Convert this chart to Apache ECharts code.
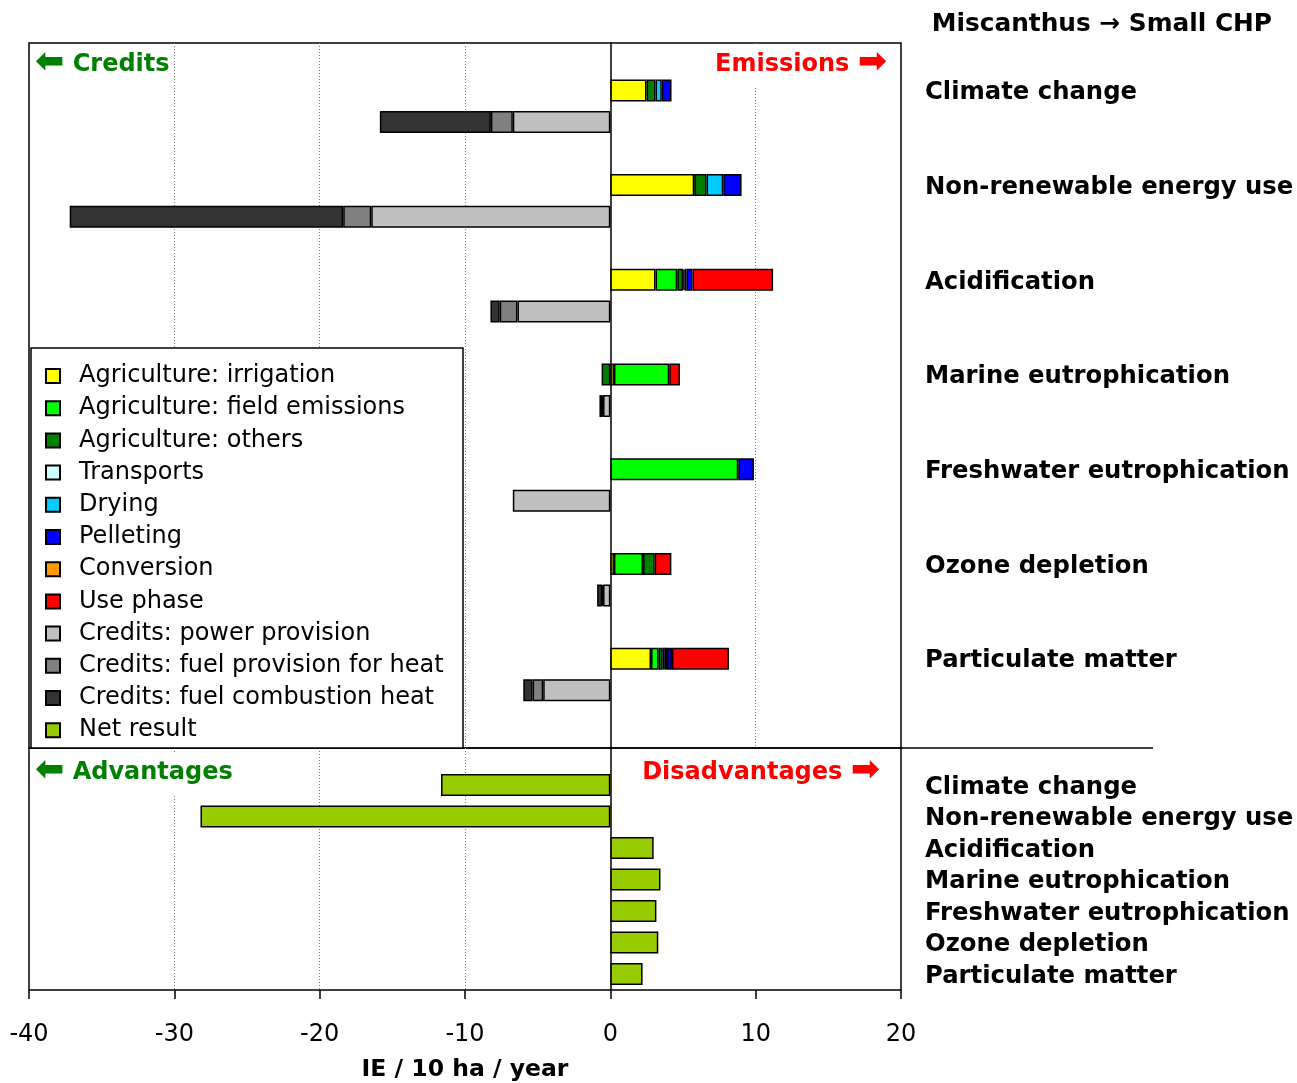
<!DOCTYPE html>
<html>
<head>
<meta charset="utf-8">
<title>Miscanthus → Small CHP</title>
<script src="https://cdn.jsdelivr.net/npm/echarts@6/dist/echarts.min.js"></script>
<style>
  html, body { margin: 0; padding: 0; background: #fff; }
  #chart { width: 1297px; height: 1083px; }
</style>
</head>
<body>
<div id="chart"></div>
<script>
// Impact categories (top to bottom)
const categories = [
  'Climate change',
  'Non-renewable energy use',
  'Acidification',
  'Marine eutrophication',
  'Freshwater eutrophication',
  'Ozone depletion',
  'Particulate matter'
];

// Emission contributions, IE / 10 ha / year
const irrigation       = [2.49, 5.77, 3.11, 0.25, 0,    0.25, 2.80];
const fieldEmissions   = [0,    0,    1.49, 3.80, 8.80, 2.00, 0.52];
const agricultureOther = [0.62, 0.85, 0.41, -0.60, 0,   0.80, 0.28];
const transports       = [0,    0,    0.10, 0,    0,    0,    0.15];
const drying           = [0.43, 1.15, 0.13, 0,    0,    0,    0.15];
const pelleting        = [0.67, 1.26, 0.41, 0,    1.08, 0,    0.34];
const conversion       = [0,    0,    0,    0,    0,    0,    0];
const usePhase         = [0,    0,    5.55, 0.74, 0,    1.15, 3.92];

// Credits, IE / 10 ha / year
const powerCredits      = [-6.71, -16.45, -6.39, -0.50, -6.71, -0.50, -4.62];
const heatFuelCredits   = [-1.51, -1.93,  -1.22, -0.05, 0,     -0.06, -0.73];
const combustionCredits = [-7.64, -18.82, -0.64, -0.20, 0,     -0.35, -0.64];

// Net result per category
const netResult = [-11.65, -28.20, 2.98, 3.45, 3.17, 3.30, 2.22];

// Axis ticks
const xMin = -40, xMax = 20, xStep = 10;

const FONT = 'DejaVu Sans';

// Top panel rows: emission bar, credit bar, spacer (no spacer after the last category)
const rows = [];
categories.forEach((c, i) => {
  rows.push({ label: c, kind: 'E', idx: i });
  rows.push({ label: '', kind: 'C', idx: i });
  if (i < categories.length - 1) rows.push({ label: '', kind: 'G', idx: i });
});

function rowData(values, kind) {
  return rows.map(r => {
    if (r.kind !== kind) return null;
    const v = values[r.idx];
    return v === 0 ? null : v;
  });
}

const emissionSeries = [
  ['Agriculture: irrigation', irrigation, '#FFFF00'],
  ['Agriculture: field emissions', fieldEmissions, '#00FF00'],
  ['Agriculture: others', agricultureOther, '#008000'],
  ['Transports', transports, '#CCFFFF'],
  ['Drying', drying, '#00CCFF'],
  ['Pelleting', pelleting, '#0000FF'],
  ['Conversion', conversion, '#FF9900'],
  ['Use phase', usePhase, '#FF0000']
];
const creditSeries = [
  ['Credits: power provision', powerCredits, '#C0C0C0'],
  ['Credits: fuel provision for heat', heatFuelCredits, '#808080'],
  ['Credits: fuel combustion heat', combustionCredits, '#333333']
];

const barBorder = { borderColor: '#000', borderWidth: 1.5 };

const series = [];
emissionSeries.forEach(([name, vals, color]) => {
  series.push({
    name, type: 'bar', stack: 'top', xAxisIndex: 2, yAxisIndex: 2,
    barWidth: 22, data: rowData(vals, 'E'),
    itemStyle: Object.assign({ color }, barBorder)
  });
});
creditSeries.forEach(([name, vals, color]) => {
  series.push({
    name, type: 'bar', stack: 'top', xAxisIndex: 2, yAxisIndex: 2,
    barWidth: 22, data: rowData(vals, 'C'),
    itemStyle: Object.assign({ color }, barBorder)
  });
});
series.push({
  name: 'Net result', type: 'bar', xAxisIndex: 3, yAxisIndex: 3,
  barWidth: 22, data: netResult,
  itemStyle: Object.assign({ color: '#99CC00' }, barBorder)
});

const GRID_LEFT = 29, GRID_W = 872;
const grey = '#7f7f7f', none = 'rgba(0,0,0,0)';

function frameX(gridIndex, splitColors, showLabels) {
  return {
    type: 'value', gridIndex, min: xMin, max: xMax, interval: xStep,
    axisLine: { show: false },
    axisTick: { show: showLabels, inside: false, length: 9, lineStyle: { color: '#000', width: 1.5 } },
    axisLabel: {
      show: showLabels, margin: 33, color: '#000', fontFamily: FONT, fontSize: 24
    },
    name: showLabels ? 'IE / 10 ha / year' : '',
    nameLocation: 'middle', nameGap: 68,
    nameTextStyle: { color: '#000', fontFamily: FONT, fontSize: 23.5, fontWeight: 'bold' },
    splitLine: { show: true, lineStyle: { color: splitColors, type: [1, 2], width: 1 } }
  };
}
function hiddenX(gridIndex) {
  return {
    type: 'value', gridIndex, min: xMin, max: xMax, interval: xStep,
    axisLine: { show: false }, axisTick: { show: false },
    axisLabel: { show: false }, splitLine: { show: false }
  };
}
function frameY(gridIndex) {
  return {
    type: 'value', gridIndex, min: 0, max: 1,
    axisLine: { show: true, onZero: true, lineStyle: { color: '#000', width: 1.5 } },
    axisTick: { show: false }, axisLabel: { show: false }, splitLine: { show: false }
  };
}
function labelY(gridIndex, data) {
  return {
    type: 'category', gridIndex, data, inverse: true, position: 'right',
    axisLine: { show: false, onZero: false }, axisTick: { show: false },
    splitLine: { show: false },
    axisLabel: {
      interval: 0, align: 'left', margin: 24, color: '#000',
      formatter: v => (v ? '{l|' + v + '}' : ''),
      rich: {
        l: { fontFamily: FONT, fontSize: 24.3, fontWeight: 'bold', color: '#000', padding: [5, 0, 0, 0] }
      }
    }
  };
}

// Header labels with a heavier arrow glyph
const headerRich = (color) => ({
  fontFamily: FONT, fontSize: 24, fontWeight: 'bold', fill: color,
  backgroundColor: '#fff', padding: [1, 4, 3, 4],
  rich: {
    a: { fontFamily: FONT, fontSize: 35, fontWeight: 'bold', fill: color, padding: [0, 0, 4, 0] }
  }
});

const option = {
  animation: false,
  backgroundColor: '#fff',
  textStyle: { fontFamily: FONT },
  grid: [
    { left: GRID_LEFT, top: 43, width: GRID_W, height: 705, show: true, borderColor: '#000', borderWidth: 1.5 },
    { left: GRID_LEFT, top: 748, width: GRID_W, height: 242, show: true, borderColor: '#000', borderWidth: 1.5 },
    { left: GRID_LEFT, top: 74.6, width: GRID_W, height: 631.4 },
    { left: GRID_LEFT, top: 769.25, width: GRID_W, height: 220.5 }
  ],
  xAxis: [
    frameX(0, [none, grey, grey, grey, none, grey, none], false),
    frameX(1, [none, grey, grey, grey, none, none, none], true),
    hiddenX(2),
    hiddenX(3)
  ],
  yAxis: [
    frameY(0),
    frameY(1),
    labelY(2, rows.map(r => r.label)),
    labelY(3, categories)
  ],
  legend: {
    orient: 'vertical', left: 31, top: 349,
    padding: [15, 10, 9, 14],
    itemWidth: 14, itemHeight: 14, itemGap: 8.2,
    icon: 'rect', selectedMode: false,
    textStyle: { fontFamily: FONT, fontSize: 24, color: '#000', padding: [0, 0, 0, 14] },
    data: series.map(s => s.name)
  },
  graphic: [
    { type: 'rect', z: 3, shape: { x: 31, y: 348, width: 432, height: 400 },
      style: { fill: '#fff', stroke: '#000', lineWidth: 1.5 } },
    { type: 'line', z: 3, shape: { x1: 901, y1: 748, x2: 1153, y2: 748 },
      style: { stroke: '#000', lineWidth: 1.5 } },
    { type: 'text', z: 5, right: 1297 - 1272, top: 12,
      style: { text: 'Miscanthus → Small CHP', fontFamily: FONT, fontSize: 24.8, fontWeight: 'bold', fill: '#000' } },
    { type: 'text', z: 5, left: 31, top: 44, style: Object.assign({ text: '{a|⬅} Credits' }, headerRich('#008000')) },
    { type: 'text', z: 5, right: 1297 - 891, top: 44, style: Object.assign({ text: 'Emissions {a|➡}' }, headerRich('#FF0000')) },
    { type: 'text', z: 5, left: 31, top: 752, style: Object.assign({ text: '{a|⬅} Advantages' }, headerRich('#008000')) },
    { type: 'text', z: 5, right: 1297 - 884, top: 752, style: Object.assign({ text: 'Disadvantages {a|➡}' }, headerRich('#FF0000')) }
  ],
  series
};

const chart = echarts.init(document.getElementById('chart'), null, { renderer: 'canvas' });
chart.setOption(option);
</script>
</body>
</html>
